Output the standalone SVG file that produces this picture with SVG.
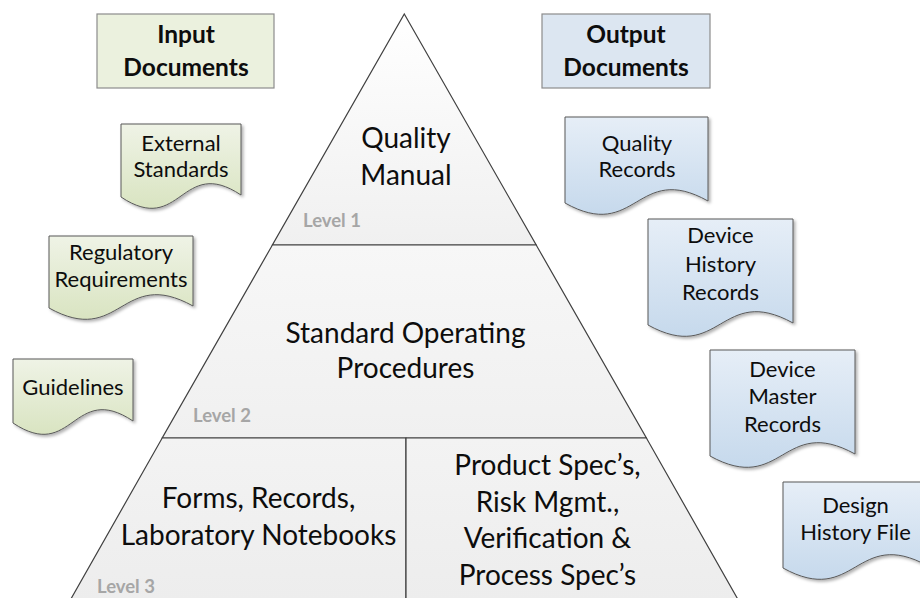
<svg xmlns="http://www.w3.org/2000/svg" width="920" height="598" viewBox="0 0 920 598">
  <style>
    text { font-family: Lato, "Open Sans", "Liberation Sans", sans-serif; fill: #0d0d0d; text-anchor: middle; }
    .main { font-size: 28px; }
    .doc { font-size: 22px; }
    .hdr { font-size: 24.5px; font-weight: bold; }
    .lvl { font-size: 18.5px; font-weight: bold; fill: #a6a6a6; text-anchor: start; }
    .tier { stroke: #404040; stroke-width: 1.2; stroke-linejoin: miter; }
    .in-hdr { fill: #ebf1de; stroke: #8c8c8c; stroke-width: 1.2; }
    .out-hdr { fill: #dce6f1; stroke: #8c8c8c; stroke-width: 1.2; }
    .in-doc { fill: url(#gGreen); stroke: #595959; stroke-width: 1; filter: url(#shadow); }
    .out-doc { fill: url(#gBlue); stroke: #595959; stroke-width: 1; filter: url(#shadow); }
  </style>
  <defs>
    <linearGradient id="gGreen" x1="0" y1="0" x2="0" y2="1">
      <stop offset="0" stop-color="#eff3e6"/>
      <stop offset="1" stop-color="#d9e4c1"/>
    </linearGradient>
    <linearGradient id="gBlue" x1="0" y1="0" x2="0" y2="1">
      <stop offset="0" stop-color="#e6eef7"/>
      <stop offset="1" stop-color="#c6d9ec"/>
    </linearGradient>
    <linearGradient id="gTier1" x1="0" y1="0" x2="0" y2="1">
      <stop offset="0" stop-color="#ffffff"/>
      <stop offset="1" stop-color="#f0f0f0"/>
    </linearGradient>
    <linearGradient id="gTier2" x1="0" y1="0" x2="0" y2="1">
      <stop offset="0" stop-color="#f7f7f7"/>
      <stop offset="1" stop-color="#f0f0f0"/>
    </linearGradient>
    <linearGradient id="gTier3" x1="0" y1="0" x2="0" y2="1">
      <stop offset="0" stop-color="#f3f3f3"/>
      <stop offset="1" stop-color="#ededed"/>
    </linearGradient>
    <filter id="shadow" x="-10%" y="-10%" width="130%" height="130%">
      <feDropShadow dx="2" dy="2" stdDeviation="1.5" flood-color="#000" flood-opacity="0.3"/>
    </filter>
  </defs>

  <rect width="920" height="598" fill="#ffffff"/>

  <!-- Pyramid tiers -->
  <g id="level1">
    <polygon class="tier" fill="url(#gTier1)" points="404.3,14 536.2,245 272.4,245"/>
    <text class="main" x="406" y="148">Quality</text>
    <text class="main" x="406" y="185">Manual</text>
    <text class="lvl" x="303" y="227">Level 1</text>
  </g>
  <g id="level2">
    <polygon class="tier" fill="url(#gTier2)" points="272.4,245 536.2,245 646.4,438 162.2,438"/>
    <text class="main" x="405.5" y="343">Standard Operating</text>
    <text class="main" x="405.5" y="378">Procedures</text>
    <text class="lvl" x="193" y="422">Level 2</text>
  </g>
  <g id="level3-records">
    <polygon class="tier" fill="url(#gTier3)" points="162.2,438 406,438 406,599 70.9,599"/>
    <text class="main" x="258.5" y="508">Forms, Records,</text>
    <text class="main" x="258.5" y="545">Laboratory Notebooks</text>
    <text class="lvl" x="97" y="593">Level 3</text>
  </g>
  <g id="level3-specs">
    <polygon class="tier" fill="url(#gTier3)" points="406,438 646.4,438 737.7,599 406,599"/>
    <text class="main" x="547.5" y="475">Product Spec’s,</text>
    <text class="main" x="547.5" y="512">Risk Mgmt.,</text>
    <text class="main" x="547.5" y="548">Verification &amp;</text>
    <text class="main" x="547.5" y="585">Process Spec’s</text>
  </g>

  <!-- Input documents -->
  <g id="input-header">
    <rect class="in-hdr" x="97" y="14" width="177" height="74"/>
    <text class="hdr" x="186" y="43">Input</text>
    <text class="hdr" x="186" y="76">Documents</text>
  </g>
  <g id="external-standards">
    <path class="in-doc" d="M121,124 H241 V195 C181,155 181,237 121,197 Z"/>
    <text class="doc" x="181" y="151">External</text>
    <text class="doc" x="181" y="177">Standards</text>
  </g>
  <g id="regulatory-requirements">
    <path class="in-doc" d="M49,236 H193 V306 C121,266 121,348 49,308 Z"/>
    <text class="doc" x="121" y="260">Regulatory</text>
    <text class="doc" x="121" y="287">Requirements</text>
  </g>
  <g id="guidelines">
    <path class="in-doc" d="M13,359 H133 V421 C73,381 73,463 13,423 Z"/>
    <text class="doc" x="73" y="395">Guidelines</text>
  </g>

  <!-- Output documents -->
  <g id="output-header">
    <rect class="out-hdr" x="542" y="14" width="168" height="74"/>
    <text class="hdr" x="626" y="43">Output</text>
    <text class="hdr" x="626" y="76">Documents</text>
  </g>
  <g id="quality-records">
    <path class="out-doc" d="M565,117 H708 V201 C636.5,161 636.5,243 565,203 Z"/>
    <text class="doc" x="637" y="151">Quality</text>
    <text class="doc" x="637" y="177">Records</text>
  </g>
  <g id="device-history-records">
    <path class="out-doc" d="M648,219 H793 V323 C720.5,283 720.5,365 648,325 Z"/>
    <text class="doc" x="720.5" y="243">Device</text>
    <text class="doc" x="720.5" y="272">History</text>
    <text class="doc" x="720.5" y="300">Records</text>
  </g>
  <g id="device-master-records">
    <path class="out-doc" d="M710,350 H855 V454 C782.5,414 782.5,496 710,456 Z"/>
    <text class="doc" x="782.5" y="377">Device</text>
    <text class="doc" x="782.5" y="404">Master</text>
    <text class="doc" x="782.5" y="432">Records</text>
  </g>
  <g id="design-history-file">
    <path class="out-doc" d="M783,482 H928 V566 C855.5,526 855.5,608 783,568 Z"/>
    <text class="doc" x="855.5" y="513">Design</text>
    <text class="doc" x="855.5" y="540">History File</text>
  </g>

  <!-- No connectors in this figure -->
  <g id="connectors"/>
</svg>
